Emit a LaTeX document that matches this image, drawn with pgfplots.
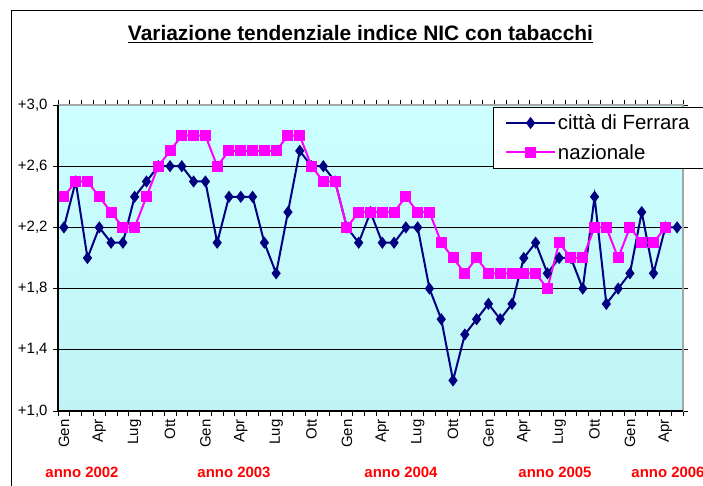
\documentclass[border=0pt]{standalone}
\usepackage{pgfplots}
\pgfplotsset{compat=1.18}
\usepackage{pgfplotstable}
\usepackage{fontspec}
\setmainfont{Liberation Sans}
\definecolor{navyF}{RGB}{0,0,128}
\definecolor{magN}{RGB}{255,0,255}
\definecolor{bgtop}{RGB}{204,255,255}
\definecolor{bgbot}{RGB}{192,243,243}

\pgfplotstableread{
x y
0 2.2
1 2.5
2 2.0
3 2.2
4 2.1
5 2.1
6 2.4
7 2.5
8 2.6
9 2.6
10 2.6
11 2.5
12 2.5
13 2.1
14 2.4
15 2.4
16 2.4
17 2.1
18 1.9
19 2.3
20 2.7
21 2.6
22 2.6
23 2.5
24 2.2
25 2.1
26 2.3
27 2.1
28 2.1
29 2.2
30 2.2
31 1.8
32 1.6
33 1.2
34 1.5
35 1.6
36 1.7
37 1.6
38 1.7
39 2.0
40 2.1
41 1.9
42 2.0
43 2.0
44 1.8
45 2.4
46 1.7
47 1.8
48 1.9
49 2.3
50 1.9
51 2.2
52 2.2
}\ferrara

\pgfplotstableread{
x y
0 2.4
1 2.5
2 2.5
3 2.4
4 2.3
5 2.2
6 2.2
7 2.4
8 2.6
9 2.7
10 2.8
11 2.8
12 2.8
13 2.6
14 2.7
15 2.7
16 2.7
17 2.7
18 2.7
19 2.8
20 2.8
21 2.6
22 2.5
23 2.5
24 2.2
25 2.3
26 2.3
27 2.3
28 2.3
29 2.4
30 2.3
31 2.3
32 2.1
33 2.0
34 1.9
35 2.0
36 1.9
37 1.9
38 1.9
39 1.9
40 1.9
41 1.8
42 2.1
43 2.0
44 2.0
45 2.2
46 2.2
47 2.0
48 2.2
49 2.1
50 2.1
51 2.2
}\nazionale

\begin{document}
\begin{tikzpicture}
\useasboundingbox (0,0) rectangle (703bp,486bp);
\draw[line width=1bp] (11bp,-5bp) -- (11bp,475bp) -- (710bp,475bp);
\node[anchor=base, font=\bfseries\fontsize{21}{24}\selectfont] at (360.5bp,445bp) {\underline{Variazione tendenziale indice NIC con tabacchi}};
\begin{axis}[
  name=ax,
  at={(58bp,75bp)}, anchor=south west,
  width=625bp, height=306bp, scale only axis,
  xmin=-0.5, xmax=52.5, ymin=1, ymax=3,
  axis background/.style={top color=bgtop, bottom color=bgbot},
  axis line style={draw=gray!70, line width=1.5bp},
  xtick={0,3,...,51},
  xticklabels={Gen,Apr,Lug,Ott,Gen,Apr,Lug,Ott,Gen,Apr,Lug,Ott,Gen,Apr,Lug,Ott,Gen,Apr},
  minor xtick={-0.5,0.5,...,52.5},
  major x tick style={draw=none},
  minor x tick style={draw=black, line width=0.8bp},
  minor tick length=5bp,
  major tick length=5bp,
  tick align=outside,
  ytick={1,1.4,1.8,2.2,2.6,3},
  yticklabels={{+1,0},{+1,4},{+1,8},{+2,2},{+2,6},{+3,0}},
  y tick style={draw=black, line width=0.8bp},
  ymajorgrids,
  major grid style={draw=black, line width=0.6bp},
  tick label style={font=\fontsize{15}{17}\selectfont},
  yticklabel style={xshift=-2bp},
  xticklabel style={rotate=90, anchor=east},
  legend style={at={(0.696,0.995)}, anchor=north west, draw=black, fill=white,
    font=\fontsize{20.5}{24}\selectfont, inner xsep=12bp, inner ysep=6bp, row sep=9bp},
  legend cell align=left,
  legend image code/.code={\draw[mark repeat=2,mark phase=2,#1] plot coordinates {(0cm,0cm) (0.86cm,0cm) (1.72cm,0cm)};},
]
\addplot[navyF, line width=2bp, mark=diamond*, mark size=4.5bp, mark options={solid}] table[x=x,y=y] {\ferrara};
\addlegendentry{città di Ferrara}
\addplot[magN, line width=2bp, mark=square*, mark size=4.5bp, mark options={solid}] table[x=x,y=y] {\nazionale};
\addlegendentry{nazionale}
\end{axis}
\draw[black, line width=1.2bp] (ax.north west) -- (ax.south west) -- (ax.south east);
\foreach \xx/\yy in {82/2002, 234/2003, 401/2004, 555/2005, 668/2006}
  \node[text=red, font=\bfseries\fontsize{15}{18}\selectfont] at (\xx bp,14bp) {anno \yy};
\end{tikzpicture}
\end{document}
